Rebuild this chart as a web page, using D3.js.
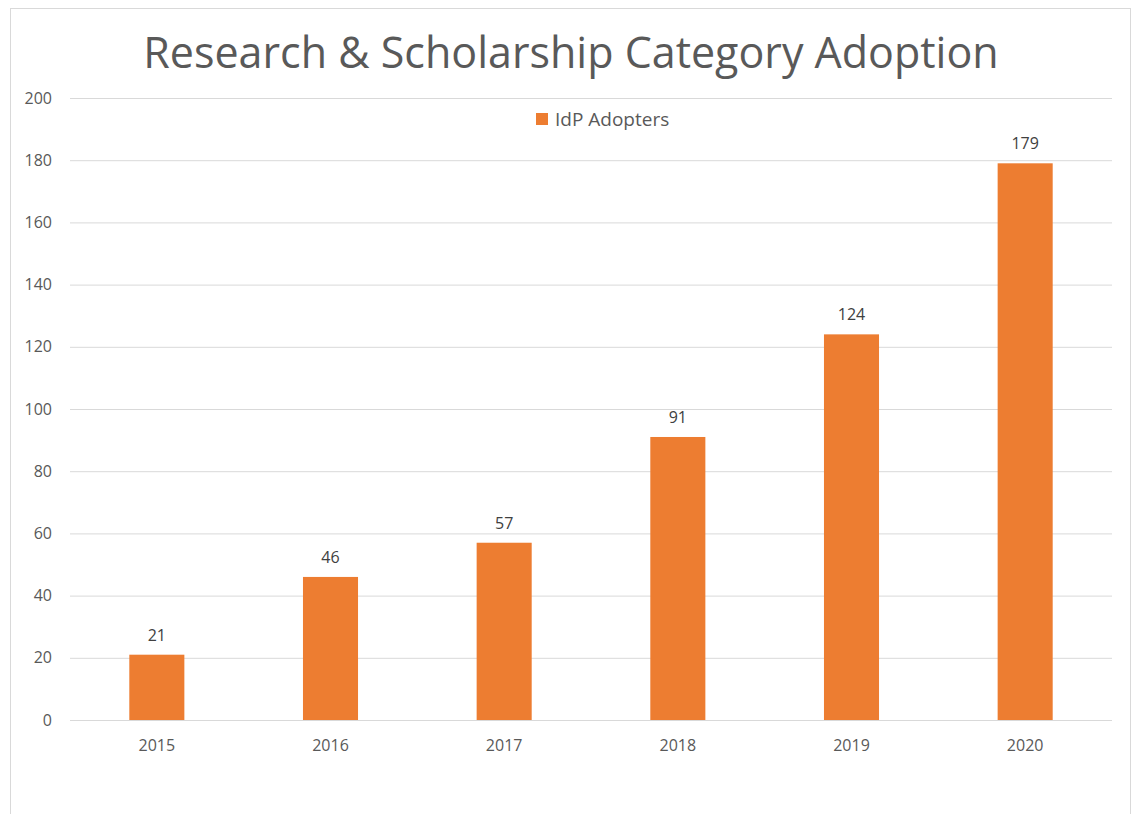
<!DOCTYPE html>
<html lang="en">
<head>
  <meta charset="UTF-8">
  <title>Research &amp; Scholarship Category Adoption</title>
  <script src="https://d3js.org/d3.v7.min.js"></script>
  <style>
    body { margin: 0; background: #fff; font-family: "Open Sans", Arial, sans-serif; }
    .grid line { stroke: #d9d9d9; stroke-width: 1; }
  </style>
</head>
<body>
<div id="chart"></div>
<script>
const years = ["2015", "2016", "2017", "2018", "2019", "2020"];
const adopters = [21, 46, 57, 91, 124, 179];
const yTicks = [0, 20, 40, 60, 80, 100, 120, 140, 160, 180, 200];
const seriesName = "IdP Adopters";

const width = 1134;
const height = 814;
const margin = { top: 98, right: 22, bottom: 94, left: 70 };

const svg = d3.select("#chart")
  .append("svg")
  .attr("width", width)
  .attr("height", height);

// chart frame
svg.append("rect")
  .attr("x", 10.5).attr("y", 8.5)
  .attr("width", 1120).attr("height", 820)
  .attr("fill", "#fff")
  .attr("stroke", "#d9d9d9");

const x = d3.scaleBand()
  .domain(years)
  .range([margin.left, width - margin.right])
  .paddingInner(0.683)
  .paddingOuter(0.3415);

const y = d3.scaleLinear()
  .domain([0, 200])
  .range([height - margin.bottom, margin.top]);

// gridlines
svg.append("g")
  .attr("class", "grid")
  .selectAll("line")
  .data(yTicks)
  .enter()
  .append("line")
  .attr("x1", margin.left)
  .attr("x2", width - margin.right)
  .attr("y1", d => y(d) + 0.5)
  .attr("y2", d => y(d) + 0.5);

// y tick labels
svg.append("g")
  .selectAll("text")
  .data(yTicks)
  .enter()
  .append("text")
  .attr("x", 52)
  .attr("y", d => y(d))
  .attr("dy", "0.35em")
  .attr("text-anchor", "end")
  .attr("font-size", 16)
  .attr("fill", "#595959")
  .text(d => d);

// bars
svg.append("g")
  .selectAll("rect")
  .data(adopters)
  .enter()
  .append("rect")
  .attr("x", (d, i) => x(years[i]))
  .attr("y", d => y(d))
  .attr("width", x.bandwidth())
  .attr("height", d => y(0) - y(d))
  .attr("fill", "#ed7d31");

// data labels
svg.append("g")
  .selectAll("text")
  .data(adopters)
  .enter()
  .append("text")
  .attr("x", (d, i) => x(years[i]) + x.bandwidth() / 2)
  .attr("y", d => y(d) - 14)
  .attr("text-anchor", "middle")
  .attr("font-size", 16)
  .attr("fill", "#404040")
  .text(d => d);

// x labels
svg.append("g")
  .selectAll("text")
  .data(years)
  .enter()
  .append("text")
  .attr("x", d => x(d) + x.bandwidth() / 2)
  .attr("y", y(0) + 31)
  .attr("text-anchor", "middle")
  .attr("font-size", 16)
  .attr("fill", "#595959")
  .text(d => d);

// title
svg.append("text")
  .attr("x", 571)
  .attr("y", 68)
  .attr("text-anchor", "middle")
  .attr("font-size", 43)
  .attr("fill", "#595959")
  .text("Research & Scholarship Category Adoption");

// legend
const legend = svg.append("g");
legend.append("rect")
  .attr("x", 536).attr("y", 113)
  .attr("width", 12).attr("height", 12)
  .attr("fill", "#ed7d31");
legend.append("text")
  .attr("x", 555).attr("y", 126)
  .attr("font-size", 19)
  .attr("fill", "#595959")
  .text(seriesName);
</script>
</body>
</html>
